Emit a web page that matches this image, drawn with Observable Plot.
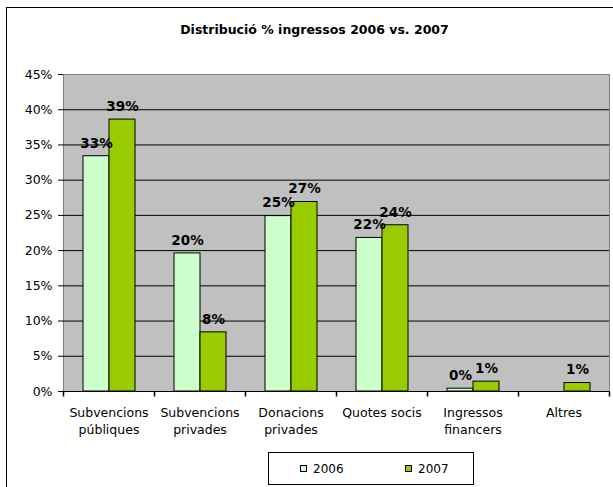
<!DOCTYPE html>
<html>
<head>
<meta charset="utf-8">
<script src="https://cdn.jsdelivr.net/npm/d3@7"></script>
<script src="https://cdn.jsdelivr.net/npm/@observablehq/plot@0.6"></script>
<style>
  html, body { margin: 0; padding: 0; background: #fff; overflow: hidden; }
  #wrap { position: relative; width: 613px; height: 487px; overflow: hidden; background: #fff; font-family: "DejaVu Sans", sans-serif; }
  #frame { position: absolute; left: 6px; top: 7px; width: 700px; height: 600px; border: 1px solid #000; }
  #title { position: absolute; left: 0; top: 23px; width: 629px; text-align: center; font-weight: bold; font-size: 12.5px; line-height: 14px; color: #000; }
  #chart { position: absolute; left: 0; top: 0; }
  #legend { position: absolute; left: 268px; top: 452px; width: 206px; height: 33px; border: 1px solid #000; box-sizing: border-box; background: #fff; font-size: 12px; }
  .item { position: absolute; top: 0; height: 31px; display: flex; align-items: center; }
  .sw { width: 5px; height: 5px; border: 1px solid #000; margin-right: 6px; }
</style>
</head>
<body>
<div id="wrap">
  <div id="frame"></div>
  <div id="title">Distribució % ingressos 2006 vs. 2007</div>
  <div id="chart"></div>
  <div id="legend"></div>
</div>
<script>
const categories = ["Subvencions\npúbliques", "Subvencions\nprivades", "Donacions\nprivades", "Quotes socis", "Ingressos\nfinancers", "Altres"];
const years = ["2006", "2007"];
const values2006 = [33.4, 19.6, 24.9, 21.8, 0.4, null];
const values2007 = [38.6, 8.4, 26.9, 23.6, 1.4, 1.2];
const yTicks = [0, 5, 10, 15, 20, 25, 30, 35, 40, 45];
const colors = ["#ccffcc", "#99cc00"];

const rows = [];
categories.forEach((c, i) => {
  rows.push({cat: c, year: years[0], value: values2006[i]});
  rows.push({cat: c, year: years[1], value: values2007[i]});
});
const present = rows.filter(d => d.value != null);

const tickSym = { draw(ctx) { ctx.moveTo(0, 0); ctx.lineTo(0, 5); } };

const chart = Plot.plot({
  width: 613,
  height: 487,
  marginTop: 74,
  marginBottom: 96,
  marginLeft: 62,
  marginRight: 3,
  style: { fontFamily: "DejaVu Sans, sans-serif", fontSize: "12.5px", background: "transparent", color: "#000" },
  fx: { domain: categories, padding: 0, axis: null, label: null },
  x: { domain: years, paddingInner: 0, paddingOuter: 0.71, axis: null },
  y: { domain: [0, 45], ticks: yTicks, tickFormat: d => d + "%", tickSize: 5, tickPadding: 6, label: null, line: true },
  color: { domain: years, range: colors },
  marks: [
    Plot.frame({ facet: "super", fill: "#c0c0c0", stroke: "#808080" }),
    Plot.ruleY(yTicks.slice(1, -1), { stroke: "#000" }),
    Plot.ruleY([0], { stroke: "#000" }),
    Plot.barY(present, { fx: "cat", x: "year", y: "value", fill: "year", stroke: "#000", strokeWidth: 1 }),
    Plot.text(present, { fx: "cat", x: "year", y: "value", text: d => Math.round(d.value) + "%", dy: -13, fontWeight: "bold", fontSize: 13.5, fill: "#000" }),
    Plot.text(categories, { fx: d => d, text: d => d, frameAnchor: "bottom", lineAnchor: "top", dy: 13, lineHeight: 1.38, fontSize: 12.5, fill: "#000" }),
    Plot.dot(categories, { fx: d => d, frameAnchor: "bottom-left", r: 5, symbol: tickSym, stroke: "#000", fill: "none" }),
    Plot.dot(categories.slice(-1), { fx: d => d, frameAnchor: "bottom-right", r: 5, symbol: tickSym, stroke: "#000", fill: "none" })
  ]
});
document.getElementById("chart").appendChild(chart);

const legend = document.getElementById("legend");
const lefts = [31, 136];
years.forEach((y, i) => {
  const it = document.createElement("div");
  it.className = "item";
  it.style.left = lefts[i] + "px";
  const sw = document.createElement("span");
  sw.className = "sw";
  sw.style.background = colors[i];
  const tx = document.createElement("span");
  tx.textContent = y;
  it.appendChild(sw);
  it.appendChild(tx);
  legend.appendChild(it);
});
</script>
</body>
</html>
